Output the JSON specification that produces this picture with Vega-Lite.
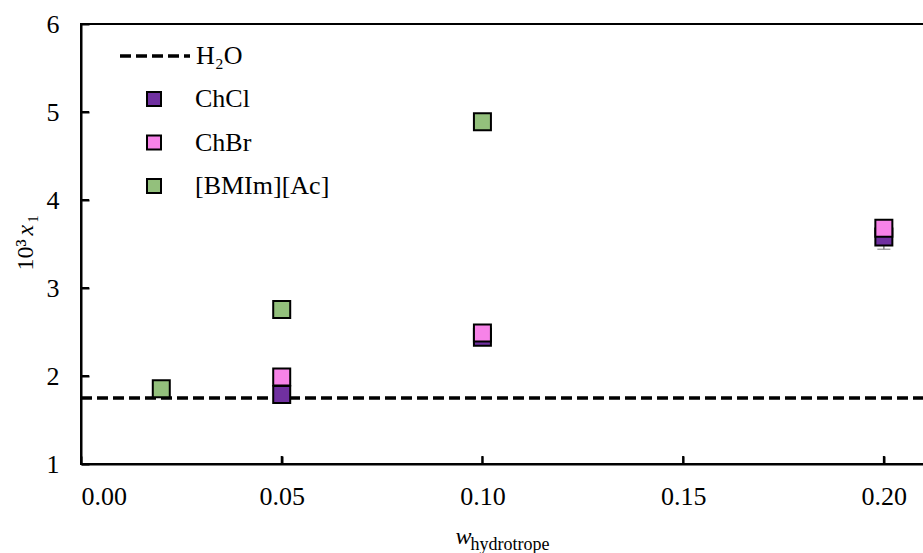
{
  "$schema": "https://vega.github.io/schema/vega-lite/v6.json",
  "width": 843,
  "height": 440,
  "autosize": "none",
  "padding": {"left": 81, "top": 24, "right": 0, "bottom": 89},
  "background": "white",
  "config": {
    "font": "Liberation Serif",
    "view": {"stroke": "black", "strokeWidth": 2},
    "axis": {"grid": false, "domainColor": "black", "domainWidth": 2, "tickColor": "black", "tickWidth": 2, "labelColor": "black", "titleColor": "black", "labelFont": "Liberation Serif", "titleFont": "Liberation Serif", "titleFontWeight": "normal"},
    "legend": {"labelFont": "Liberation Serif", "labelFontSize": 26, "labelColor": "black", "padding": 0}
  },
  "datasets": {
    "pts": [
      {"series": "ChCl", "w": 0.05, "x1": 1.79},
      {"series": "ChCl", "w": 0.10, "x1": 2.44},
      {"series": "ChCl", "w": 0.20, "x1": 3.58},
      {"series": "ChBr", "w": 0.05, "x1": 1.99},
      {"series": "ChBr", "w": 0.10, "x1": 2.49},
      {"series": "ChBr", "w": 0.20, "x1": 3.68},
      {"series": "[BMIm][Ac]", "w": 0.02, "x1": 1.855},
      {"series": "[BMIm][Ac]", "w": 0.05, "x1": 2.755},
      {"series": "[BMIm][Ac]", "w": 0.10, "x1": 4.89}
    ],
    "err": [
      {"series": "ChCl", "w": 0.20, "lo": 3.44, "hi": 3.65}
    ],
    "water": [
      {"series": "H₂O", "x1": 1.75}
    ],
    "xticks": [{"w": 0.05}, {"w": 0.10}, {"w": 0.15}, {"w": 0.20}],
    "yticks": [{"v": 2}, {"v": 3}, {"v": 4}, {"v": 5}]
  },
  "layer": [
    {
      "data": {"name": "err"},
      "mark": {"type": "errorbar", "ticks": {"size": 13, "color": "#808080", "thickness": 1.5}, "rule": {"color": "#808080", "strokeWidth": 1.5}},
      "encoding": {
        "x": {"field": "w", "type": "quantitative", "scale": {"domain": [0, 0.21], "nice": false, "zero": false},
          "axis": {"orient": "bottom", "labels": false, "ticks": false, "domain": false, "title": "hydrotrope", "titleFontSize": 18, "titleX": 389, "titleY": 85, "titleAlign": "left", "titleBaseline": "alphabetic", "titleAngle": 0}},
        "y": {"field": "lo", "type": "quantitative", "scale": {"domain": [1, 6], "nice": false, "zero": false},
          "axis": {"orient": "left", "labels": false, "ticks": false, "domain": false, "title": "1", "titleFontSize": 14, "titleAngle": 270, "titleX": -44, "titleY": 198, "titleAlign": "left", "titleBaseline": "alphabetic"}},
        "y2": {"field": "hi"}
      }
    },
    {
      "data": {"name": "water"},
      "mark": {"type": "rule", "color": "black", "strokeWidth": 3.5},
      "encoding": {
        "y": {"field": "x1", "type": "quantitative",
          "axis": {"orient": "left", "labels": false, "ticks": false, "domain": false, "title": "x", "titleFontStyle": "italic", "titleFontSize": 24, "titleAngle": 270, "titleX": -49, "titleY": 211, "titleAlign": "left", "titleBaseline": "alphabetic"}},
        "strokeDash": {"field": "series", "type": "nominal", "scale": {"domain": ["H₂O"], "range": [[11, 5]]},
          "legend": {"title": null, "orient": "none", "legendX": 37, "legendY": -5, "symbolType": "stroke", "symbolSize": 4900, "symbolStrokeWidth": 3.5, "symbolStrokeColor": "black", "labelOffset": 4}}
      }
    },
    {
      "data": {"name": "pts"},
      "mark": {"type": "point", "shape": "square", "size": 289, "filled": true, "opacity": 1, "stroke": "black", "strokeWidth": 2},
      "encoding": {
        "x": {"field": "w", "type": "quantitative",
          "axis": {"orient": "bottom", "values": [0, 0.05, 0.1, 0.15, 0.2], "format": ".2f", "ticks": true, "tickSize": -8, "tickWidth": 2, "tickColor": "black", "labelFontSize": 26, "labelPadding": 27,
            "title": "w", "titleFontStyle": "italic", "titleFontSize": 24, "titleX": 374, "titleY": 79, "titleAlign": "left", "titleBaseline": "alphabetic", "titleAngle": 0}},
        "y": {"field": "x1", "type": "quantitative",
          "axis": {"orient": "left", "values": [1, 2, 3, 4, 5, 6], "ticks": true, "tickSize": -8, "tickWidth": 2, "tickColor": "black", "labelFontSize": 26, "labelPadding": 30,
            "title": "10³", "titleFontSize": 24, "titleAngle": 270, "titleX": -49, "titleY": 246, "titleAlign": "left", "titleBaseline": "alphabetic"}},
        "fill": {"field": "series", "type": "nominal", "scale": {"domain": ["ChCl", "ChBr", "[BMIm][Ac]"], "range": ["#7030A0", "#F783E8", "#93C07C"]},
          "legend": {"title": null, "orient": "none", "legendX": 60, "legendY": 62, "symbolType": "square", "symbolSize": 196, "symbolStrokeColor": "black", "symbolStrokeWidth": 2, "symbolOpacity": 1, "labelOffset": 28, "rowPadding": 17.5}}
      }
    },
    {
      "data": {"name": "xticks"},
      "mark": {"type": "tick", "orient": "vertical", "size": 8, "thickness": 2, "color": "black", "opacity": 1, "yOffset": -4},
      "encoding": {
        "x": {"field": "w", "type": "quantitative", "axis": null},
        "y": {"datum": 1, "type": "quantitative", "axis": null}
      }
    },
    {
      "data": {"name": "yticks"},
      "mark": {"type": "tick", "orient": "horizontal", "size": 8, "thickness": 2, "color": "black", "opacity": 1, "xOffset": 4},
      "encoding": {
        "y": {"field": "v", "type": "quantitative", "axis": null},
        "x": {"datum": 0, "type": "quantitative", "axis": null}
      }
    }
  ],
  "resolve": {"axis": {"x": "independent", "y": "independent"}}
}
